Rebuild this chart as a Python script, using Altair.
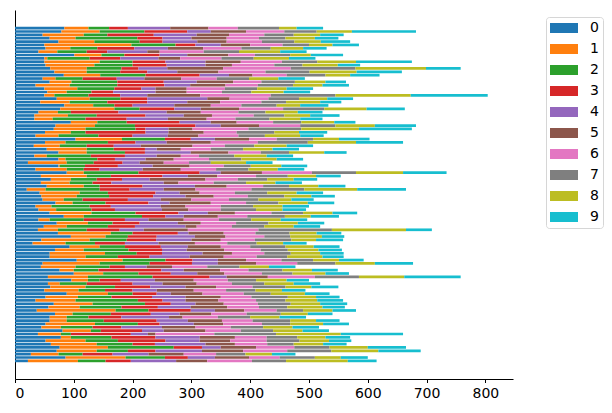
import altair as alt
import pandas as pd

# values, rows listed from the top bar (index 99) down to the bottom bar (index 0)
s0 = [84,79,47,59,74,50,52,40,101,50, 50,52,60,67,83,47,59,35,50,55,
      50,71,43,84,77,40,33,33,95,69, 66,51,35,103,51,32,54,74,33,74,
      22,74,35,88,44,61,44,54,20,42, 45,47,69,35,40,59,83,40,71,49,
      39,73,95,45,30,93,68,59,59,105, 47,44,76,100,56,96,56,60,50,88,
      52,35,66,57,37,68,59,59,52,45, 81,39,78,52,61,76,71,27,86,22]
s1 = [41,65,70,44,61,148,42,32,46,5, 94,83,62,55,62,22,37,58,56,33,
      17,56,50,49,92,33,57,31,45,67, 54,44,39,79,35,44,68,48,21,12,
      66,2,53,29,78,34,49,63,32,68, 60,36,29,27,30,71,34,19,53,39,
      34,90,59,82,56,51,49,94,61,78, 97,59,24,50,68,28,20,60,58,70,
      55,68,66,53,134,30,29,29,84,33, 48,39,17,68,78,82,68,47,102,85]
s2 = [35,76,40,105,77,75,46,50,39,72, 56,65,59,57,77,46,78,81,63,42,
      58,52,64,36,43,22,49,56,50,68, 85,25,68,73,72,46,46,65,75,54,
      46,43,29,93,41,44,39,27,92,48, 55,32,56,65,60,75,99,58,42,70,
      49,37,38,63,50,43,76,54,55,73, 85,58,42,60,110,20,46,50,45,42,
      57,106,89,71,56,65,37,63,73,54, 17,17,69,55,61,112,53,41,67,47]
s3 = [32,73,79,43,39,34,63,35,60,52, 56,58,29,46,92,58,79,80,46,37,
      54,46,68,31,59,81,83,70,90,103, 17,102,58,44,47,46,53,34,58,30,
      49,56,27,104,88,43,32,73,51,81, 75,77,73,36,40,73,40,70,46,46,
      56,77,49,50,51,61,57,43,54,46, 72,26,107,55,97,36,78,60,47,41,
      69,42,44,62,72,68,56,90,37,49, 70,102,75,81,38,48,47,51,39,43]
s4 = [72,40,73,49,59,43,57,68,47,65, 68,66,49,51,50,47,56,44,24,72,
      46,102,68,71,45,82,65,70,53,43, 39,39,60,41,53,46,20,78,54,52,
      29,59,73,36,43,47,89,89,58,41, 55,56,36,85,80,50,31,40,65,86,
      41,18,65,60,57,46,42,69,68,43, 44,37,38,45,29,58,51,60,41,24,
      57,39,42,56,41,49,81,53,58,69, 37,29,75,58,86,32,79,61,46,77]
s5 = [65,60,55,60,50,50,60,21,70,37, 60,45,95,70,40,63,62,60,53,53,
      90,38,56,62,65,58,48,66,44,65, 41,60,52,58,75,88,41,64,41,48,
      41,63,65,70,50,95,25,54,54,34, 48,52,70,42,45,46,58,60,39,19,
      75,60,52,50,62,56,64,50,58,48, 65,43,62,46,70,66,58,52,63,54,
      60,56,48,62,50,54,23,58,50,57, 71,13,60,52,50,60,70,60,58,53]
s6 = [50,65,60,55,60,55,65,75,45,70, 70,72,115,80,58,60,48,55,65,60,
      120,66,70,52,75,64,71,49,62,70, 95,56,68,47,80,55,51,55,31,60,
      43,58,60,85,66,55,60,62,95,60, 58,64,60,60,55,62,50,60,60,60,
      120,54,66,58,55,50,62,55,56,60, 70,60,48,64,80,58,60,62,55,70,
      52,64,58,54,55,60,60,52,66,60, 60,100,54,62,55,65,75,55,52,76]
s7 = [70,55,50,45,55,45,50,60,60,55, 60,48,110,75,66,55,57,60,55,50,
      110,52,42,60,70,46,52,58,48,60, 90,64,45,62,85,50,55,48,60,55,
      37,46,55,75,54,50,55,44,90,55, 62,50,55,55,60,54,64,55,55,55,
      125,58,44,62,50,60,46,45,52,54, 65,55,58,52,75,48,55,56,50,46,
      62,50,56,48,45,58,55,64,48,55, 55,105,52,56,45,60,75,50,60,58]
s8 = [30,60,45,50,45,40,55,70,35,60, 66,60,120,80,42,50,52,50,50,55,
      128,48,58,40,72,55,44,52,56,67, 98,42,60,44,82,55,50,60,55,60,
      60,52,50,80,48,45,50,50,90,50, 46,56,50,50,45,50,44,50,50,50,
      126,46,54,42,45,48,52,50,60,44, 67,50,50,56,77,52,50,44,45,58,
      48,54,50,60,50,46,50,44,56,50, 50,110,48,50,50,65,80,45,44,105]
s9 = [45,109,40,40,50,45,40,45,55,45, 95,38,59,77,50,45,35,45,45,45,
      131,44,36,48,65,42,50,38,36,70, 90,48,40,52,80,45,45,38,45,45,
      45,44,45,74,42,40,45,46,83,45, 40,38,45,45,40,42,48,45,45,45,
      44,42,38,46,40,44,40,40,36,42, 65,45,44,40,96,38,45,46,40,42,
      40,44,46,38,40,42,45,40,44,45, 45,106,42,38,40,65,72,40,46,49]

series = [s0, s1, s2, s3, s4, s5, s6, s7, s8, s9]
colors = ["#1f77b4", "#ff7f0e", "#2ca02c", "#d62728", "#9467bd",
          "#8c564b", "#e377c2", "#7f7f7f", "#bcbd22", "#17becf"]
names = [str(i) for i in range(10)]
n_rows = len(s0)

rows = []
for k, vals in enumerate(series):
    for r, v in enumerate(vals):
        idx = n_rows - 1 - r  # row 0 at the bottom
        rows.append({"row": idx, "lo": idx - 0.4, "hi": idx + 0.4,
                     "series": names[k], "k": k, "value": v})
df = pd.DataFrame(rows)

legend_symbol = "M-7,-5H21V5H-7Z"

chart = alt.Chart(df).transform_stack(
    stack="value", groupby=["row"], as_=["x0", "x1"],
    sort=[alt.SortField("k", order="ascending")],
).mark_bar().encode(
    y=alt.Y("lo:Q", axis=alt.Axis(labels=False, ticks=False, title=None, grid=False,
                                  domainColor="black", domainWidth=1),
            scale=alt.Scale(domain=[-5.39, 104.39], nice=False, zero=False)),
    y2="hi:Q",
    x=alt.X("x0:Q",
            scale=alt.Scale(domain=[0, 847], nice=False),
            axis=alt.Axis(values=list(range(0, 900, 100)), title=None, grid=False,
                          domainColor="black", tickColor="black", tickSize=3.5,
                          labelFontSize=14, labelFont="DejaVu Sans", labelColor="black",
                          labelPadding=4)),
    x2="x1:Q",
    color=alt.Color("series:N", scale=alt.Scale(domain=names, range=colors),
                    legend=alt.Legend(title=None, orient="none", legendX=531, legendY=7,
                                      symbolType=legend_symbol, symbolSize=4,
                                      symbolStrokeWidth=0, rowPadding=7,
                                      labelFontSize=14, labelFont="DejaVu Sans",
                                      labelColor="black", labelOffset=26,
                                      padding=4, strokeColor="#d6d6d6", cornerRadius=3,
                                      fillColor="white")),
).properties(
    width=498, height=369,
    padding={"left": 6, "top": 2, "right": 0, "bottom": 0},
).configure_view(stroke=None)

chart.save("out.html", embed_options={"renderer": "svg", "actions": False})
